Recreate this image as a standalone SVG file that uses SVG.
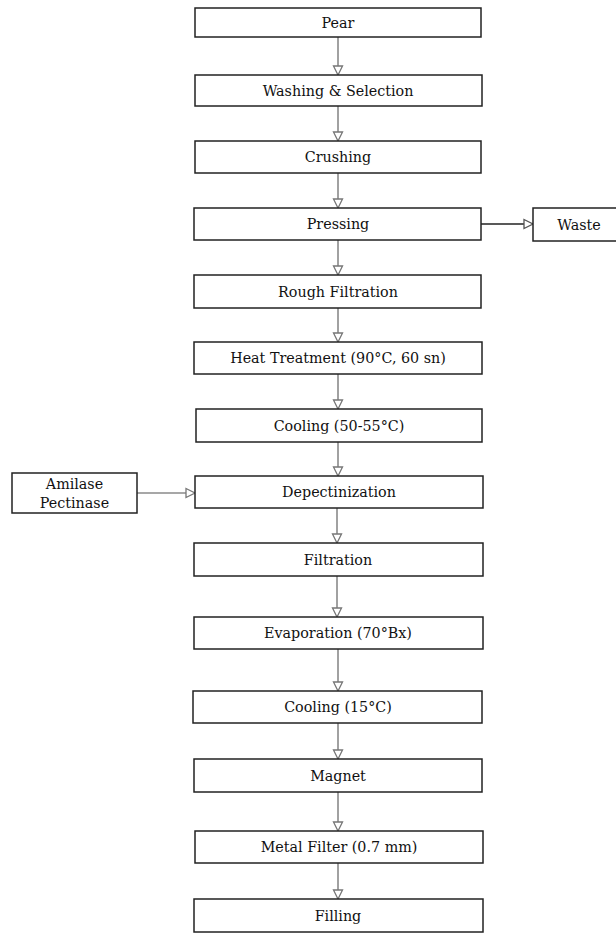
<svg xmlns="http://www.w3.org/2000/svg" width="616" height="934" viewBox="0 0 616 934">
<style>
.box{fill:#fff;stroke:#222;stroke-width:1.5}
.t{font-family:"DejaVu Serif","Liberation Serif",serif;font-size:14.3px;fill:#111;text-anchor:middle;dominant-baseline:central}
.c{stroke:#8a8a8a;stroke-width:1.6;fill:none;marker-end:url(#ah)}
.cd{stroke:#222;stroke-width:1.4;fill:none;marker-end:url(#ahd)}
</style>
<defs>
<marker id="ah" markerUnits="userSpaceOnUse" markerWidth="12" markerHeight="12" viewBox="0 0 12 12" refX="10" refY="6" orient="auto">
<path d="M1,1.5 L10,6 L1,10.5 Z" fill="#fff" stroke="#777" stroke-width="1.3"/>
</marker>
<marker id="ahd" markerUnits="userSpaceOnUse" markerWidth="12" markerHeight="12" viewBox="0 0 12 12" refX="10" refY="6" orient="auto">
<path d="M1,1.5 L10,6 L1,10.5 Z" fill="#fff" stroke="#555" stroke-width="1.3"/>
</marker>
</defs>
<g id="connectors">
<line class="c" x1="338" y1="37" x2="338" y2="75"/>
<line class="c" x1="338" y1="106" x2="338" y2="141"/>
<line class="c" x1="338" y1="173" x2="338" y2="208"/>
<line class="c" x1="338" y1="240" x2="338" y2="275"/>
<line class="c" x1="338" y1="308" x2="338" y2="342"/>
<line class="c" x1="338" y1="374" x2="338" y2="409"/>
<line class="c" x1="338" y1="442" x2="338" y2="476"/>
<line class="c" x1="337" y1="508" x2="337" y2="543"/>
<line class="c" x1="337" y1="576" x2="337" y2="617"/>
<line class="c" x1="338" y1="649" x2="338" y2="691"/>
<line class="c" x1="338" y1="723" x2="338" y2="759"/>
<line class="c" x1="338" y1="792" x2="338" y2="831"/>
<line class="c" x1="338" y1="863" x2="338" y2="899"/>
<line class="cd" x1="481" y1="224" x2="533" y2="224"/>
<line class="c" x1="137" y1="493" x2="195" y2="493"/>
</g>
<g id="pear"><rect class="box" x="195" y="8" width="286" height="29"/><text class="t" x="338" y="22.5">Pear</text></g>
<g id="washing"><rect class="box" x="195" y="75" width="287" height="31"/><text class="t" x="338" y="90.5">Washing &amp; Selection</text></g>
<g id="crushing"><rect class="box" x="195" y="141" width="286" height="32"/><text class="t" x="338" y="157">Crushing</text></g>
<g id="pressing"><rect class="box" x="194" y="208" width="287" height="32"/><text class="t" x="338" y="224">Pressing</text></g>
<g id="waste"><rect class="box" x="533" y="208" width="86" height="33"/><text class="t" x="579" y="224.5">Waste</text></g>
<g id="rough"><rect class="box" x="194" y="275" width="287" height="33"/><text class="t" x="338" y="291.5">Rough Filtration</text></g>
<g id="heat"><rect class="box" x="194" y="342" width="288" height="32"/><text class="t" x="338" y="358">Heat Treatment (90°C, 60 sn)</text></g>
<g id="cooling1"><rect class="box" x="196" y="409" width="286" height="33"/><text class="t" x="339" y="425.5">Cooling (50-55°C)</text></g>
<g id="amilase"><rect class="box" x="12" y="473" width="125" height="40"/><text class="t" x="74.5" y="483.5">Amilase</text><text class="t" x="74.5" y="502.5">Pectinase</text></g>
<g id="depectinization"><rect class="box" x="195" y="476" width="288" height="32"/><text class="t" x="339" y="492">Depectinization</text></g>
<g id="filtration"><rect class="box" x="194" y="543" width="289" height="33"/><text class="t" x="338" y="559.5">Filtration</text></g>
<g id="evaporation"><rect class="box" x="194" y="617" width="289" height="32"/><text class="t" x="338" y="633">Evaporation (70°Bx)</text></g>
<g id="cooling2"><rect class="box" x="193" y="691" width="289" height="32"/><text class="t" x="338" y="707">Cooling (15°C)</text></g>
<g id="magnet"><rect class="box" x="194" y="759" width="288" height="33"/><text class="t" x="338" y="775.5">Magnet</text></g>
<g id="metalfilter"><rect class="box" x="195" y="831" width="288" height="32"/><text class="t" x="339" y="847">Metal Filter (0.7 mm)</text></g>
<g id="filling"><rect class="box" x="194" y="899" width="289" height="33"/><text class="t" x="338" y="915.5">Filling</text></g>
</svg>
